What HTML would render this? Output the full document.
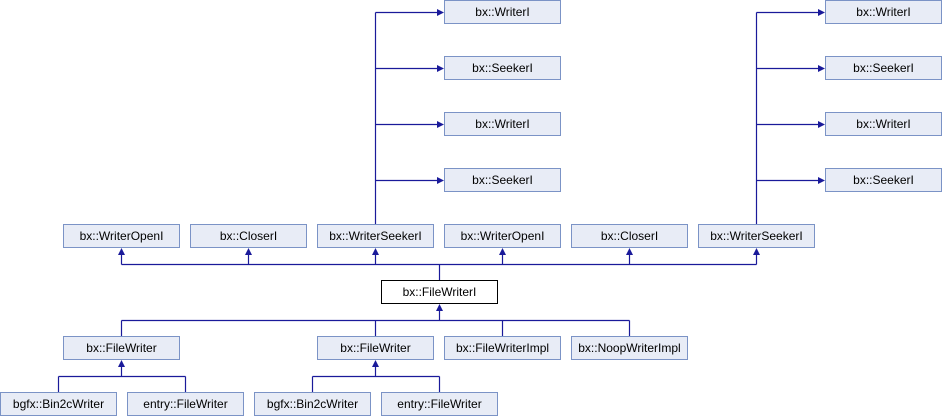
<!DOCTYPE html>
<html><head><meta charset="utf-8"><style>
html,body{margin:0;padding:0;background:#fff;}
svg{display:block}
text{font-family:"Liberation Sans",Arial,sans-serif;font-size:12px;fill:#000;text-anchor:middle}
.b{fill:#e8ecf6;stroke:#7b93c6;stroke-width:1}
.w{fill:#fff;stroke:#000;stroke-width:1}
.l{stroke:#1a1a9a;stroke-width:1.2;fill:none}
.a{fill:#1a1a9a}
</style></head><body>
<svg width="942" height="416" viewBox="0 0 942 416" xmlns="http://www.w3.org/2000/svg">
<!-- connectors top columns -->
<path class="l" d="M375.5 12.5V224M375.5 12.5H438M375.5 68.5H438M375.5 124.5H438M375.5 180.5H438"/>
<path class="l" d="M756.5 12.5V224M756.5 12.5H819M756.5 68.5H819M756.5 124.5H819M756.5 180.5H819"/>
<g class="a">
<polygon points="444,12.5 437,9 437,16"/><polygon points="444,68.5 437,65 437,72"/><polygon points="444,124.5 437,121 437,128"/><polygon points="444,180.5 437,177 437,184"/>
<polygon points="825,12.5 818,9 818,16"/><polygon points="825,68.5 818,65 818,72"/><polygon points="825,124.5 818,121 818,128"/><polygon points="825,180.5 818,177 818,184"/>
</g>
<!-- row5 to FileWriterI -->
<path class="l" d="M121.5 264.5H756.5M439.5 264.5V280M121.5 254V264.5M248.5 254V264.5M375.5 254V264.5M502.5 254V264.5M629.5 254V264.5M756.5 254V264.5"/>
<g class="a">
<polygon points="121.5,248 118,255 125,255"/><polygon points="248.5,248 245,255 252,255"/><polygon points="375.5,248 372,255 379,255"/><polygon points="502.5,248 499,255 506,255"/><polygon points="629.5,248 626,255 633,255"/><polygon points="756.5,248 753,255 760,255"/>
<polygon points="439.5,304 436,311 443,311"/>
<polygon points="121.5,360 118,367 125,367"/><polygon points="375.5,360 372,367 379,367"/>
</g>
<path class="l" d="M439.5 310V320.5M121.5 320.5H629.5M121.5 320.5V336M375.5 320.5V336M502.5 320.5V336M629.5 320.5V336"/>
<path class="l" d="M121.5 366V376.5M58.5 376.5H185.5M58.5 376.5V392M185.5 376.5V392"/>
<path class="l" d="M375.5 366V376.5M312.5 376.5H439.5M312.5 376.5V392M439.5 376.5V392"/>
<!-- boxes -->
<g>
<rect class="b" x="444.5" y="0.5" width="116" height="23"/><text x="502.5" y="16">bx::WriterI</text>
<rect class="b" x="444.5" y="56.5" width="116" height="23"/><text x="502.5" y="72">bx::SeekerI</text>
<rect class="b" x="444.5" y="112.5" width="116" height="23"/><text x="502.5" y="128">bx::WriterI</text>
<rect class="b" x="444.5" y="168.5" width="116" height="23"/><text x="502.5" y="184">bx::SeekerI</text>
<rect class="b" x="825.5" y="0.5" width="116" height="23"/><text x="883.5" y="16">bx::WriterI</text>
<rect class="b" x="825.5" y="56.5" width="116" height="23"/><text x="883.5" y="72">bx::SeekerI</text>
<rect class="b" x="825.5" y="112.5" width="116" height="23"/><text x="883.5" y="128">bx::WriterI</text>
<rect class="b" x="825.5" y="168.5" width="116" height="23"/><text x="883.5" y="184">bx::SeekerI</text>

<rect class="b" x="63.5" y="224.5" width="116" height="23"/><text x="121.5" y="240">bx::WriterOpenI</text>
<rect class="b" x="190.5" y="224.5" width="116" height="23"/><text x="248.5" y="240">bx::CloserI</text>
<rect class="b" x="317.5" y="224.5" width="116" height="23"/><text x="375.5" y="240">bx::WriterSeekerI</text>
<rect class="b" x="444.5" y="224.5" width="116" height="23"/><text x="502.5" y="240">bx::WriterOpenI</text>
<rect class="b" x="571.5" y="224.5" width="116" height="23"/><text x="629.5" y="240">bx::CloserI</text>
<rect class="b" x="698.5" y="224.5" width="116" height="23"/><text x="756.5" y="240">bx::WriterSeekerI</text>

<rect class="w" x="381.5" y="280.5" width="116" height="23"/><text x="439.5" y="296">bx::FileWriterI</text>

<rect class="b" x="63.5" y="336.5" width="116" height="23"/><text x="121.5" y="352">bx::FileWriter</text>
<rect class="b" x="317.5" y="336.5" width="116" height="23"/><text x="375.5" y="352">bx::FileWriter</text>
<rect class="b" x="444.5" y="336.5" width="116" height="23"/><text x="502.5" y="352">bx::FileWriterImpl</text>
<rect class="b" x="571.5" y="336.5" width="116" height="23"/><text x="629.5" y="352">bx::NoopWriterImpl</text>

<rect class="b" x="0.5" y="392.5" width="116" height="23"/><text x="58.5" y="408">bgfx::Bin2cWriter</text>
<rect class="b" x="127.5" y="392.5" width="116" height="23"/><text x="185.5" y="408">entry::FileWriter</text>
<rect class="b" x="254.5" y="392.5" width="116" height="23"/><text x="312.5" y="408">bgfx::Bin2cWriter</text>
<rect class="b" x="381.5" y="392.5" width="116" height="23"/><text x="439.5" y="408">entry::FileWriter</text>
</g>
</svg>
</body></html>
